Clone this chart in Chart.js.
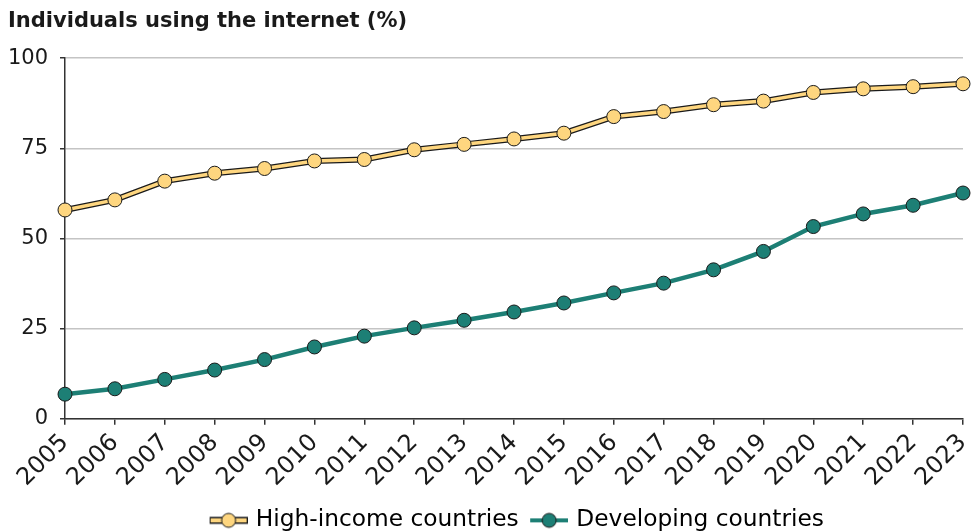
<!DOCTYPE html>
<html>
<head>
<meta charset="utf-8">
<script src="https://cdn.jsdelivr.net/npm/chart.js@4.4.1/dist/chart.umd.min.js"></script>
<style>
html,body{margin:0;padding:0;background:#fff;}
#wrap{width:972px;height:531px;position:relative;}
</style>
</head>
<body>
<div id="wrap"><canvas id="c" width="972" height="531"></canvas></div>
<script>
const years = ['2005','2006','2007','2008','2009','2010','2011','2012','2013','2014','2015','2016','2017','2018','2019','2020','2021','2022','2023'];
const highIncome = [57.9,60.7,65.9,68.1,69.4,71.5,71.9,74.6,76.1,77.6,79.2,83.8,85.2,87.1,88.1,90.5,91.5,92.1,92.9];
const developing = [6.8,8.3,10.9,13.5,16.4,19.9,22.9,25.2,27.3,29.6,32.1,34.9,37.6,41.3,46.4,53.3,56.8,59.2,62.6];
const yTicks = [0,25,50,75,100];
const seriesNames = ['High-income countries','Developing countries'];
const titleText = 'Individuals using the internet (%)';

const YELLOW = '#FED67F';
const TEAL = '#1D7F75';
const DARK = '#1a1a1a';
const FONT = "'DejaVu Sans', sans-serif";

function legendIcon(lineColor, fill, outlined){
  const c = document.createElement('canvas');
  const L = 9; // transparent left margin (item spacing)
  c.width = L + 38; c.height = 18;
  const g = c.getContext('2d');
  if (outlined){
    g.fillStyle = DARK; g.fillRect(L, 5.5, 38, 7);
    g.fillStyle = lineColor; g.fillRect(L + 1, 7, 36, 4);
  } else {
    g.fillStyle = lineColor; g.fillRect(L, 7, 38, 4);
  }
  g.beginPath(); g.arc(L + 19, 9, 7, 0, Math.PI*2);
  g.fillStyle = fill; g.fill();
  g.lineWidth = 1; g.strokeStyle = DARK; g.stroke();
  return c;
}
const icons = [legendIcon(YELLOW, YELLOW, true), legendIcon(TEAL, TEAL, false)];

new Chart(document.getElementById('c'), {
  type: 'line',
  data: {
    labels: years,
    datasets: [
      {
        label: seriesNames[0], data: highIncome,
        borderColor: YELLOW, borderWidth: 3.5,
        pointBackgroundColor: YELLOW, pointBorderColor: DARK, pointBorderWidth: 1,
        pointRadius: 7, pointHoverRadius: 7, tension: 0, order: 1
      },
      {
        label: seriesNames[0] + ' outline', data: highIncome,
        borderColor: DARK, borderWidth: 6,
        pointRadius: 0, pointHoverRadius: 0, tension: 0, order: 2
      },
      {
        label: seriesNames[1], data: developing,
        borderColor: TEAL, borderWidth: 4.5,
        pointBackgroundColor: TEAL, pointBorderColor: DARK, pointBorderWidth: 1,
        pointRadius: 7, pointHoverRadius: 7, tension: 0, order: 0
      }
    ]
  },
  options: {
    responsive: false,
    devicePixelRatio: 1,
    animation: false,
    events: [],
    layout: { padding: { left: 8, right: 9, top: 0, bottom: -11 } },
    plugins: {
      tooltip: { enabled: false },
      title: {
        display: true, text: titleText, align: 'start',
        color: DARK, font: { family: FONT, size: 21, weight: 'bold', lineHeight: 1.2 },
        padding: { top: 9, bottom: 24 }
      },
      legend: {
        position: 'bottom',
        fullSize: false,
        labels: {
          usePointStyle: true, pointStyleWidth: 40,
          color: DARK, font: { family: FONT, size: 23.3 },
          padding: 6,
          generateLabels: () => [
            { text: seriesNames[0], pointStyle: icons[0], fillStyle: YELLOW, strokeStyle: DARK, lineWidth: 0, hidden: false, datasetIndex: 0 },
            { text: seriesNames[1], pointStyle: icons[1], fillStyle: TEAL, strokeStyle: DARK, lineWidth: 0, hidden: false, datasetIndex: 2 }
          ]
        }
      }
    },
    scales: {
      x: {
        offset: false,
        border: { display: true, color: '#333', width: 1.5 },
        grid: { display: true, drawOnChartArea: false, drawTicks: true, tickLength: 6, tickColor: '#333', lineWidth: 1.5 },
        ticks: { color: DARK, font: { family: FONT, size: 24 }, minRotation: 45, maxRotation: 45, autoSkip: false, padding: 4 },
        afterFit: s => { s.height = 84; s.paddingRight = 0; s.paddingLeft = 0; }
      },
      y: {
        min: 0, max: 100,
        afterBuildTicks: s => { s.ticks = yTicks.map(v => ({ value: v })); },
        border: { display: true, color: '#333', width: 1.5 },
        grid: { color: '#c4c4c4', lineWidth: 1.5, drawTicks: true, tickLength: 5, tickColor: '#333' },
        ticks: { color: DARK, font: { family: FONT, size: 21 }, padding: 12 },
        afterFit: s => { s.width = 57; }
      }
    }
  }
});
</script>
</body>
</html>
